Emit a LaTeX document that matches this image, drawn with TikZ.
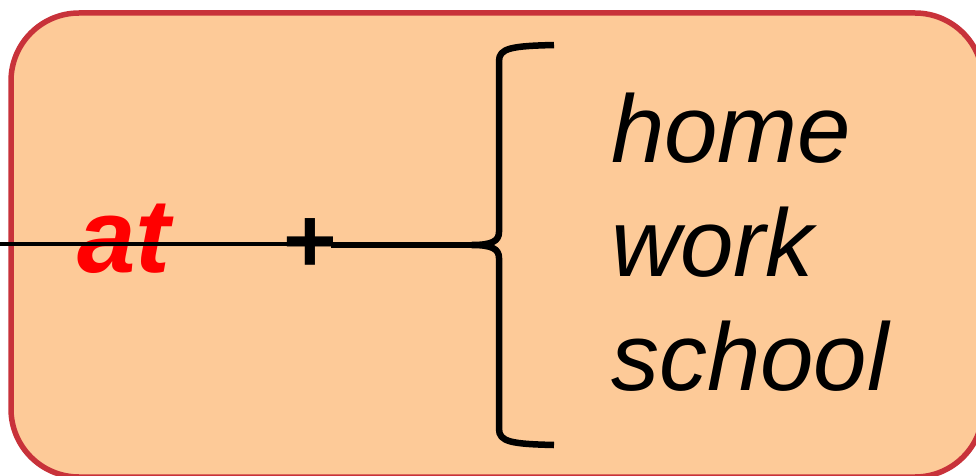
\documentclass[tikz,border=0pt]{standalone}
\usepackage{fontspec}
\newfontfamily\arialfont{Liberation Sans}
\definecolor{boxfill}{RGB}{253,202,152}
\definecolor{boxline}{RGB}{200,50,58}
\definecolor{atred}{RGB}{255,0,0}
\begin{document}
\begin{tikzpicture}[x=1pt,y=1pt,
  word/.style={inner sep=0pt,anchor=base west,font=\arialfont\itshape\fontsize{96}{96}\selectfont},
  braceline/.style={line width=6.5pt,line cap=butt}]
\useasboundingbox (0,0) rectangle (976,475);
\clip (0,0) rectangle (976,475);
\draw[fill=boxfill,draw=boxline,line width=5.5pt,rounded corners=68pt] (11,-2) rectangle (983,462);
\node[inner sep=0pt,anchor=base west,text=atred,font=\arialfont\bfseries\itshape\fontsize{105}{105}\selectfont] (at) at (77,203) {at};
\node[inner sep=0pt,anchor=base,font=\arialfont\bfseries\fontsize{92}{92}\selectfont] (plus) at (310,203) {+};
\node[word] (home) at (611,313) {home};
\node[word] (work) at (611,199) {work};
\node[word] (school) at (611,85) {school};
\coordinate (lstart) at (0,231);
\coordinate (tip) at (472,230);
\coordinate (pluse) at (331,230);
\draw[line width=3.5pt] (lstart) -- (pluse |- lstart) -- (tip |- lstart);
\draw[braceline] (pluse) -- (tip);
\draw[braceline,line join=round]
  (554,430) .. controls (512,429) and (499,427) .. (499,414)
  -- (499,243) .. controls (499,234) and (492,230) .. (tip)
  .. controls (492,230) and (499,226) .. (499,217)
  -- (499,46) .. controls (499,33) and (512,31) .. (554,30);
\end{tikzpicture}
\end{document}
